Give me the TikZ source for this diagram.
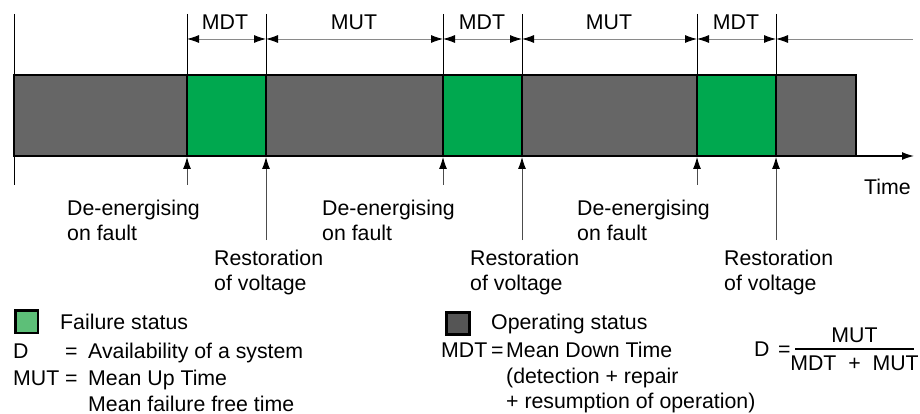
\documentclass[tikz,border=0pt]{standalone}
\usepackage{fontspec}
\setmainfont{Liberation Sans}
\usetikzlibrary{arrows.meta}
\definecolor{opgray}{HTML}{666666}
\definecolor{failgreen}{HTML}{00A84F}
\definecolor{lgreen}{HTML}{5DBF78}
\definecolor{lgray}{HTML}{555555}
\definecolor{dimgray}{HTML}{8A8A8A}
\begin{document}
\begin{tikzpicture}[x=1pt,y=-1pt,
  txt/.style={inner sep=0pt,anchor=base west,font=\fontsize{21.3}{25}\selectfont},
  ctxt/.style={txt,anchor=base},
  seg/.style={draw=black,line width=2.2pt},
  opseg/.style={seg,fill=opgray},
  failseg/.style={seg,fill=failgreen},
  tick/.style={draw=black,line width=0.8pt},
  dimln/.style={draw=dimgray,line width=0.9pt},
  upar/.style={draw=black!70,line width=0.9pt},
  >={Latex[length=12pt,width=8pt,color=black]}]
\useasboundingbox (0,0) rectangle (920,414);

% bar segments
\draw[opseg]   (14,75)  rectangle (187,156);
\draw[failseg] (187,75) rectangle (266,156);
\draw[opseg]   (266,75) rectangle (443,156);
\draw[failseg] (443,75) rectangle (522,156);
\draw[opseg]   (522,75) rectangle (697,156);
\draw[failseg] (697,75) rectangle (776,156);
\draw[opseg]   (776,75) rectangle (856,156);

% boundary coordinates
\coordinate (t1) at (187,75); \coordinate (t2) at (266,75); \coordinate (t3) at (443,75);
\coordinate (t4) at (522,75); \coordinate (t5) at (697,75); \coordinate (t6) at (776,75);
\coordinate (u1) at (187,14); \coordinate (u2) at (266,14); \coordinate (u3) at (443,14);
\coordinate (u4) at (522,14); \coordinate (u5) at (697,14); \coordinate (u6) at (776,14);
\coordinate (d1) at (187,39); \coordinate (d2) at (266,39); \coordinate (d3) at (443,39);
\coordinate (d4) at (522,39); \coordinate (d5) at (697,39); \coordinate (d6) at (776,39);
\coordinate (dend) at (913,39);

% vertical ticks above bar
\foreach \i in {1,...,6} \draw[tick] (u\i) -- (t\i);
\coordinate (lt) at (14,14); \coordinate (lb) at (14,185);
\draw[tick] (lt) -- (lb);

% dimension lines
\draw[dimln,<->] (d1) -- (d2);
\draw[dimln,<->] (d2) -- (d3);
\draw[dimln,<->] (d3) -- (d4);
\draw[dimln,<->] (d4) -- (d5);
\draw[dimln,<->] (d5) -- (d6);
\draw[dimln,<-]  (d6) -- (dend);

\node[ctxt] (mdt1) at (225,30) {MDT};
\node[ctxt] (mut1) at (354,30) {MUT};
\node[ctxt] (mdt2) at (482,30) {MDT};
\node[ctxt] (mut2) at (609,30) {MUT};
\node[ctxt] (mdt3) at (736,30) {MDT};

% time axis
\coordinate (ax0) at (856,156); \coordinate (ax1) at (914,156);
\draw[line width=1.4pt,->] (ax0) -- (ax1);
\node[txt] (time) at (864,194) {Time};

% event arrows
\coordinate (b1) at (187,157); \coordinate (b2) at (266,157); \coordinate (b3) at (443,157);
\coordinate (b4) at (522,157); \coordinate (b5) at (697,157); \coordinate (b6) at (776,157);
\coordinate (e1) at (187,185); \coordinate (e2) at (266,240); \coordinate (e3) at (443,185);
\coordinate (e4) at (522,240); \coordinate (e5) at (697,185); \coordinate (e6) at (776,240);
\foreach \i in {1,...,6} \draw[upar,->] (e\i) -- (b\i);

\node[txt] (de1a) at (67,215) {De-energising};
\node[txt] (de1b) at (67,240) {on fault};
\node[txt] (de2a) at (322,215) {De-energising};
\node[txt] (de2b) at (322,240) {on fault};
\node[txt] (de3a) at (577,215) {De-energising};
\node[txt] (de3b) at (577,240) {on fault};
\node[txt] (re1a) at (214,265) {Restoration};
\node[txt] (re1b) at (214,290) {of voltage};
\node[txt] (re2a) at (470,265) {Restoration};
\node[txt] (re2b) at (470,290) {of voltage};
\node[txt] (re3a) at (724,265) {Restoration};
\node[txt] (re3b) at (724,290) {of voltage};

% legend
\draw[line width=2.4pt,fill=lgreen] (15.3,310.3) rectangle (38,333);
\draw[line width=2.4pt,fill=lgray] (446.3,312.3) rectangle (469.5,334.5);
\node[txt] (fs) at (60,329) {Failure status};
\node[txt] (os) at (491,329) {Operating status};

\node[txt] (dl) at (13,358) {D};
\node[txt] (dq) at (65,358) {=};
\node[txt] (dt) at (88,358) {Availability of a system};
\node[txt] (ml) at (13,385) {MUT};
\node[txt] (mq) at (65,385) {=};
\node[txt] (mt) at (88,385) {Mean Up Time};
\node[txt] (mt2) at (88,411) {Mean failure free time};

\node[txt] (nl) at (441,357) {MDT};
\node[txt] (nq) at (491,357) {=};
\node[txt] (nt) at (506,357) {Mean Down Time};
\node[txt] (nt2) at (506,383) {(detection + repair};
\node[txt] (nt3) at (506,408) {+ resumption of operation)};

% formula
\node[txt] (fd) at (754,356) {D};
\node[txt] (fq) at (778,356) {=};
\coordinate (fl0) at (795,349); \coordinate (fl1) at (914,349);
\draw[line width=1.3pt] (fl0) -- (fl1);
\node[ctxt] (fnum) at (854.5,342) {MUT};
\node[ctxt] (fden) at (854.5,370) {MDT\ \ +\ \ MUT};
\end{tikzpicture}
\end{document}
